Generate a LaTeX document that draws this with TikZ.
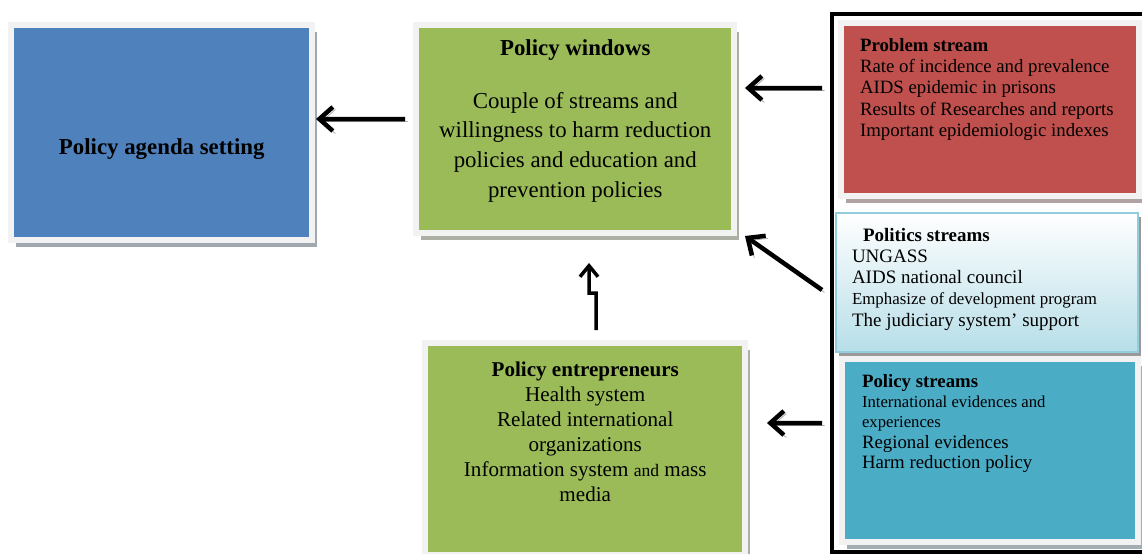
\documentclass[tikz,border=0pt]{standalone}
\usepackage{fontspec}
\setmainfont{Liberation Serif}
\usetikzlibrary{arrows.meta,positioning,shadows,calc}
\definecolor{agendablue}{HTML}{4F81BD}
\definecolor{windowgreen}{HTML}{9BBB59}
\definecolor{problemred}{HTML}{C0504D}
\definecolor{policyteal}{HTML}{4BACC6}
\definecolor{framegray}{HTML}{F2F2F2}
\definecolor{politicsline}{HTML}{93CDDD}
\definecolor{politicsfill}{HTML}{B7DEE8}
\tikzset{
  stbox/.style={draw=framegray, line width=0.12cm, fill=#1, inner sep=0pt, outer sep=0pt,
    drop shadow={shadow xshift=0.1cm, shadow yshift=-0.14cm, fill=#1!30!black!40, opacity=1}},
  arr/.style={line width=0.09cm, -{Straight Barb[length=0.27cm,width=0.48cm]},
    preaction={draw=black!35, transform canvas={xshift=0.05cm,yshift=-0.05cm}}},
  zigarr/.style={line width=0.07cm, -{Straight Barb[length=0.22cm,width=0.36cm]}},
  txt/.style={inner sep=0pt, outer sep=0pt}
}
\begin{document}
\begin{tikzpicture}[x=0.02cm,y=-0.02cm]
  \useasboundingbox (0,0) rectangle (1142,554);
  \draw[line width=0.08cm] (1146,14) -- (832,14) -- (832,552) -- (1146,552);
  \node[stbox=agendablue, minimum width=6.03cm, minimum height=4.32cm] (agenda) at (161.75,132.5) {};
  \node[stbox=windowgreen, minimum width=6.37cm, minimum height=4.18cm] (windows) at (575.25,129) {};
  \node[stbox=windowgreen, minimum width=6.41cm, minimum height=4.24cm] (entre) at (585.25,449) {};
  \node[stbox=problemred, minimum width=5.96cm, minimum height=3.48cm] (problem) at (990,109.5) {};
  \node[draw=politicsline, line width=0.04cm, top color=white, bottom color=politicsfill,
    minimum width=6.04cm, minimum height=2.78cm, inner sep=0pt, outer sep=0pt,
    drop shadow={shadow xshift=0.06cm, shadow yshift=-0.08cm, fill=black!40, opacity=1}] (politics) at (987,282.5) {};
  \node[stbox=policyteal, minimum width=5.93cm, minimum height=3.66cm] (policy) at (990.25,450.5) {};

  \node[txt, anchor=base, font=\bfseries\fontsize{13}{17}\selectfont] (agendatxt) at ([yshift=-0.45cm]agenda.center) {Policy agenda setting};
  \node[txt, anchor=base, font=\bfseries\fontsize{13}{17}\selectfont] (wtitle) at ([yshift=-0.61cm]windows.north) {Policy windows};
  \node[txt, below=0.64cm of wtitle, align=center, font=\fontsize{13}{17}\selectfont] (wtext)
    {Couple of streams and\\willingness to harm reduction\\policies and education and\\prevention policies};
  \node[txt, anchor=north, align=center, font=\fontsize{12}{14.2}\selectfont] (etext) at ([yshift=-0.38cm]entre.north)
    {\textbf{Policy entrepreneurs}\\Health system\\Related international\\organizations\\Information system {\fontsize{10}{14.2}\selectfont and} mass\\media};
  \node[txt, anchor=north west, align=left, font=\fontsize{10.7}{12.2}\selectfont] (ptext) at ([xshift=0.38cm,yshift=-0.31cm]problem.north west)
    {\textbf{Problem stream}\\Rate of incidence and prevalence\\AIDS epidemic in prisons\\Results of Researches and reports\\Important epidemiologic indexes};
  \node[txt, anchor=north west, align=left, font=\fontsize{10.8}{12.1}\selectfont] (poltext) at ([xshift=0.32cm,yshift=-0.3cm]politics.north west)
    {\hspace*{0.22cm}\textbf{Politics streams}\\UNGASS\\AIDS national council\\{\fontsize{9.6}{12.1}\selectfont Emphasize of development program}\\The judiciary system' support};
  \node[txt, anchor=north west, align=left, font=\fontsize{10.7}{11.6}\selectfont] (stext) at ([xshift=0.4cm,yshift=-0.3cm]policy.north west)
    {\textbf{Policy streams}\\{\fontsize{9.5}{11}\selectfont International evidences and}\\{\fontsize{9.5}{11}\selectfont experiences}\\Regional evidences\\Harm reduction policy};

  \draw[arr] ([xshift=-0.22cm,yshift=0.2cm]windows.west) -- ([xshift=0.07cm,yshift=0.27cm]agenda.east);
  \draw[arr] ([xshift=-0.38cm,yshift=0.43cm]problem.west) -- ([xshift=0.21cm,yshift=0.82cm]windows.east);
  \draw[arr] ([xshift=-0.28cm,yshift=-0.15cm]politics.west) -- ([xshift=0.21cm,yshift=-0.05cm]windows.south east);
  \draw[arr] ([xshift=-0.4cm,yshift=0.55cm]policy.west) -- ([xshift=0.43cm,yshift=0.52cm]entre.east);
  \draw[zigarr] ([xshift=0.215cm,yshift=0.26cm]entre.north) -- ++(0,-37) -- ++(-7,0) -- ([xshift=0.275cm,yshift=-0.59cm]windows.south);
\end{tikzpicture}
\end{document}
